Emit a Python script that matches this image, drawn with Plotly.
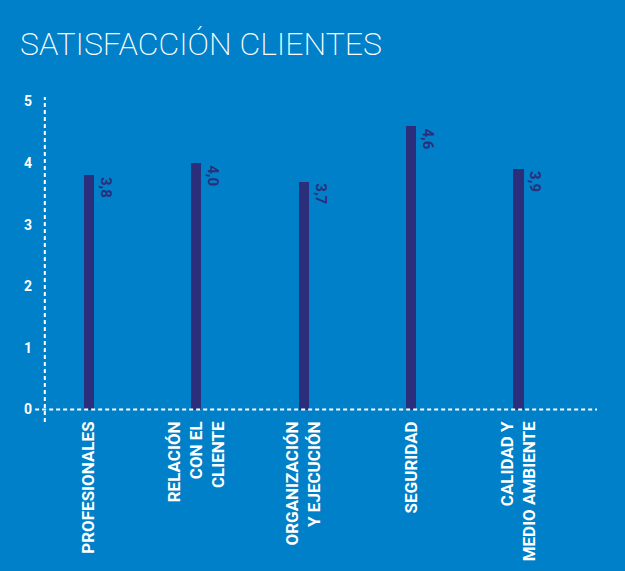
import plotly.graph_objects as go

# data
categories = [
    "PROFESIONALES",
    "RELACIÓN<br>CON EL<br>CLIENTE",
    "ORGANIZACIÓN<br>Y EJECUCIÓN",
    "SEGURIDAD",
    "CALIDAD Y<br>MEDIO AMBIENTE",
]
scores = [3.8, 4.0, 3.7, 4.6, 3.9]
score_labels = ["3,8", "4,0", "3,7", "4,6", "3,9"]
y_ticks = [0, 1, 2, 3, 4, 5]

BG = "#0080C8"
NAVY = "#2B2F7B"
WHITE = "#FFFFFF"
DASH = "4px,3px"

x_idx = list(range(len(categories)))

fig = go.Figure(go.Bar(
    x=x_idx,
    y=scores,
    width=0.095,
    marker=dict(color=NAVY, line=dict(width=0)),
    hoverinfo="skip",
))

# value labels, rotated, to the right of each bar top
for i, (v, lab) in enumerate(zip(scores, score_labels)):
    fig.add_annotation(
        x=i, y=v, text=lab, showarrow=False,
        textangle=90, xanchor="left", yanchor="top",
        xshift=6,
        font=dict(family="Roboto, sans-serif", size=15, color=NAVY, weight="bold"),
    )

# dotted axes
fig.add_shape(type="line", xref="x", yref="y", x0=-0.41, x1=-0.41, y0=-0.2, y1=5.07,
              line=dict(color=WHITE, width=2, dash=DASH))
fig.add_shape(type="line", xref="x", yref="y", x0=-0.5, x1=4.73, y0=0, y1=0,
              line=dict(color=WHITE, width=2, dash=DASH))

# title sits in the top margin, 18px from the left edge
fig.add_annotation(
    xref="paper", yref="paper", x=(18 - 33) / 564, y=1, yshift=71,
    xanchor="left", yanchor="top",
    text="SATISFACCIÓN CLIENTES", showarrow=False,
    font=dict(family="Roboto, sans-serif", size=32, color=WHITE, weight=200),
)

fig.update_layout(
    width=625, height=571,
    paper_bgcolor=BG, plot_bgcolor=BG,
    margin=dict(l=33, r=28, t=94, b=146),
    showlegend=False,
    bargap=0,
)
fig.update_xaxes(
    range=[-0.52, 4.73],
    tickmode="array", tickvals=x_idx, ticktext=categories,
    tickangle=-90,
    tickfont=dict(family="Roboto, sans-serif", size=17, color=WHITE, weight="bold"),
    ticklabelstandoff=-8,
    showgrid=False, zeroline=False, showline=False, ticks="",
    automargin=False,
)
fig.update_yaxes(
    range=[-0.25, 5.12],
    tickmode="array", tickvals=y_ticks, ticktext=[str(t) for t in y_ticks],
    tickfont=dict(family="Roboto, sans-serif", size=14, color=WHITE, weight="bold"),
    showgrid=False, zeroline=False, showline=False, ticks="",
    automargin=False,
)

# drop the default page margin so the figure sits at the window's corner
fig.write_html(
    "out.html",
    config={"displayModeBar": False},
    post_script="document.body.style.margin='0';",
)
